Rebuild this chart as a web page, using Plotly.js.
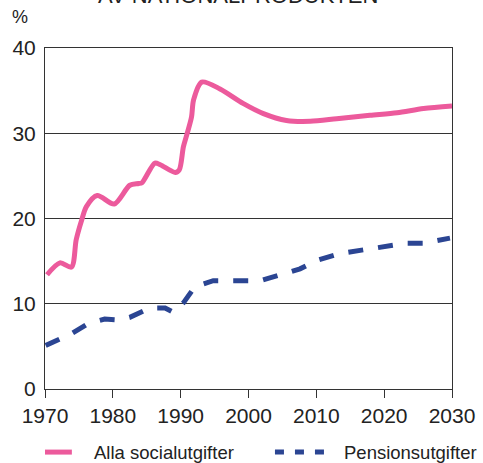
<!DOCTYPE html>
<html>
<head>
<meta charset="utf-8">
<script src="https://cdn.plot.ly/plotly-3.0.1.min.js"></script>
<style>
  html, body { margin: 0; padding: 0; background: #fff; }
  #chart { width: 483px; height: 463px; }
</style>
</head>
<body>
<div id="chart"></div>
<script>
// Alla socialutgifter, share of GDP (%)
var socialYears = [1970.3, 1972.2, 1973.9, 1974.6, 1975.4, 1976.1, 1977.7, 1980.2, 1982.5, 1983.8, 1984.3,
    1986.2, 1987.0, 1989.2, 1989.8, 1990.4, 1990.9, 1991.6, 1991.9, 1993.1, 1995.8, 1999.2, 2002.2,
    2005.6, 2009.1, 2013.0, 2017.9, 2021.9, 2025.8, 2030];
var socialValues = [13.4, 14.8, 14.3, 17.5, 19.8, 21.4, 22.7, 21.7, 23.9, 24.1, 24.2,
    26.5, 26.3, 25.4, 25.7, 28.4, 29.8, 31.9, 33.9, 36.0, 35.2, 33.5, 32.3,
    31.5, 31.4, 31.7, 32.1, 32.4, 32.9, 33.2];

// Pensionsutgifter, share of GDP (%)
var pensionYears = [1970.1, 1973.7, 1976.4, 1978.8, 1981.1, 1982.5, 1985.5, 1987.7, 1988.9, 1990.4, 1992.1,
    1994.8, 1998.8, 2001.7, 2004.7, 2007.6, 2010.1, 2013.5, 2018.4, 2023.3, 2025.8, 2029.7];
var pensionValues = [5.1, 6.4, 7.7, 8.2, 8.1, 8.4, 9.5, 9.5, 9.0, 10.1, 12.0,
    12.7, 12.7, 12.7, 13.4, 14.1, 15.1, 15.9, 16.5, 17.1, 17.1, 17.7];

var xTicks = [1970, 1980, 1990, 2000, 2010, 2020, 2030];
var yTicks = [0, 10, 20, 30, 40];

var font = "Liberation Sans, Arial, sans-serif";
var pink = "#ec5a9c";
var blue = "#2b4593";

var social = {
    x: socialYears,
    y: socialValues,
    type: "scatter",
    mode: "lines",
    name: "Alla socialutgifter",
    line: { color: pink, width: 5, shape: "spline", smoothing: 0.8 }
};

var pension = {
    x: pensionYears,
    y: pensionValues,
    type: "scatter",
    mode: "lines",
    name: "Pensionsutgifter",
    line: { color: blue, width: 5, dash: "dash" }
};

// legend drawn by hand below the plot so it fits on one row like the original
var legendY = -0.185;

var layout = {
    width: 483,
    height: 463,
    margin: { l: 45, r: 31, t: 48, b: 74 },
    paper_bgcolor: "#fff",
    plot_bgcolor: "#fff",
    font: { family: font, color: "#222", size: 20 },
    showlegend: false,
    xaxis: {
        range: [1970, 2030],
        tickvals: xTicks,
        ticks: "outside",
        ticklen: 8,
        tickcolor: "#333",
        showline: true,
        linecolor: "#333",
        linewidth: 1,
        mirror: true,
        showgrid: false,
        zeroline: false,
        tickfont: { size: 21 }
    },
    yaxis: {
        range: [0, 40],
        tickvals: yTicks,
        ticks: "",
        showline: true,
        linecolor: "#333",
        linewidth: 1,
        mirror: true,
        showgrid: true,
        gridcolor: "#333",
        gridwidth: 1,
        zeroline: false,
        tickfont: { size: 21 },
        ticklabelstandoff: 4
    },
    shapes: [
        { type: "line", xref: "paper", yref: "paper", x0: 0, x1: 0.066, y0: legendY, y1: legendY,
          line: { color: pink, width: 5 } },
        { type: "line", xref: "paper", yref: "paper", x0: 0.565, x1: 0.692, y0: legendY, y1: legendY,
          line: { color: blue, width: 5, dash: "9px,11px" } }
    ],
    annotations: [{
        text: "AV NATIONALPRODUKTEN",
        xref: "paper", yref: "paper",
        x: 0.474, y: 1.111,
        xanchor: "center", yanchor: "bottom",
        showarrow: false,
        font: { family: font, size: 22, color: "#222" }
    }, {
        text: "%",
        xref: "paper", yref: "paper",
        x: -0.085, y: 1.09,
        xanchor: "left", yanchor: "middle",
        showarrow: false,
        font: { family: font, size: 18, color: "#222" }
    }, {
        text: social.name,
        xref: "paper", yref: "paper",
        x: 0.116, y: legendY,
        xanchor: "left", yanchor: "middle",
        showarrow: false,
        font: { family: font, size: 18.5, color: "#222" }
    }, {
        text: pension.name,
        xref: "paper", yref: "paper",
        x: 0.73, y: legendY,
        xanchor: "left", yanchor: "middle",
        showarrow: false,
        font: { family: font, size: 18.5, color: "#222" }
    }]
};

Plotly.newPlot("chart", [social, pension], layout, { displayModeBar: false, staticPlot: true });
</script>
</body>
</html>
